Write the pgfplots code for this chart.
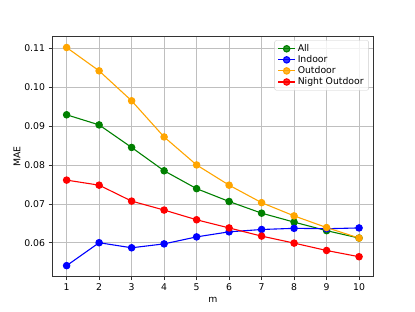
\documentclass[border=0pt]{standalone}
\usepackage{pgfplots}
\pgfplotsset{compat=1.18}
\usepackage{fontspec}
\setmainfont{DejaVu Sans}
\definecolor{mgreen}{RGB}{0,128,0}
\definecolor{morange}{RGB}{255,165,0}
\begin{document}
\begin{tikzpicture}
\begin{axis}[
  scale only axis, width=321.7pt, height=240pt,
  xmin=0.55, xmax=10.45, ymin=0.05126, ymax=0.11298,
  xtick={1,...,10},
  ytick={0.06,0.07,0.08,0.09,0.10,0.11},
  yticklabel style={/pgf/number format/.cd, fixed, fixed zerofill, precision=2},
  /pgf/number format/assume math mode=true,
  ticklabel style={font=\fontsize{9.3}{11}\selectfont},
  label style={font=\fontsize{9.3}{11}\selectfont},
  xlabel={m}, ylabel={MAE},
  ylabel style={yshift=-3pt},
  grid=major, major grid style={gray!50, line width=0.6pt},
  axis line style={black!80, line width=0.6pt},
  tick style={black!80, line width=0.6pt},
  tick align=outside, major tick length=3.5pt,
  xtick pos=bottom, ytick pos=left,
  legend style={font=\fontsize{9.3}{11}\selectfont, draw=black!20, rounded corners=2pt, fill=white, fill opacity=0.8, text opacity=1, row sep=-1.5pt, at={(0.985,0.985)}, anchor=north east},
  legend cell align=left,
  every axis plot/.append style={line width=1.1pt, mark=*, mark size=3.2pt},
]
\addplot[color=mgreen, mark options={fill=mgreen}] coordinates {(1,0.0929)(2,0.0903)(3,0.0845)(4,0.0785)(5,0.0739)(6,0.0706)(7,0.0676)(8,0.0653)(9,0.0631)(10,0.0612)};
\addlegendentry{All}
\addplot[color=blue, mark options={fill=blue}] coordinates {(1,0.0541)(2,0.0600)(3,0.0587)(4,0.0597)(5,0.0615)(6,0.0628)(7,0.0634)(8,0.0637)(9,0.0636)(10,0.0638)};
\addlegendentry{Indoor}
\addplot[color=morange, mark options={fill=morange}] coordinates {(1,0.1102)(2,0.1042)(3,0.0965)(4,0.0872)(5,0.0800)(6,0.0748)(7,0.0703)(8,0.0669)(9,0.0639)(10,0.0612)};
\addlegendentry{Outdoor}
\addplot[color=red, mark options={fill=red}] coordinates {(1,0.0761)(2,0.0748)(3,0.0707)(4,0.0684)(5,0.0659)(6,0.0638)(7,0.0617)(8,0.0599)(9,0.0580)(10,0.0564)};
\addlegendentry{Night Outdoor}
\end{axis}
\useasboundingbox ([xshift=-52pt,yshift=-34.3pt]current axis.south west) rectangle ++(415pt,311pt);
\end{tikzpicture}
\end{document}
